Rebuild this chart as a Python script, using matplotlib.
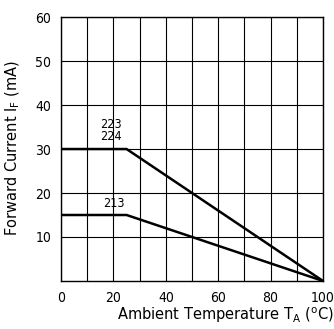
import numpy as np
import matplotlib
matplotlib.use('Agg')
import matplotlib.pyplot as plt
from matplotlib import font_manager

# derating curves (ambient temperature degC, forward current mA)
temp_hi = [0, 25, 100]
curr_hi = [30, 30, 0]
temp_lo = [0, 25, 100]
curr_lo = [15, 15, 0]
x_ticks = [0, 20, 40, 60, 80, 100]
y_ticks = [10, 20, 30, 40, 50, 60]

names = {f.name for f in font_manager.fontManager.ttflist}
NARROW = 'Liberation Sans Narrow' if 'Liberation Sans Narrow' in names else 'DejaVu Sans'

fig = plt.figure(figsize=(3.34, 3.29), dpi=100)
ax = fig.add_axes([0.183, 0.146, 0.784, 0.802])
ax.set_xlim(0, 100); ax.set_ylim(0, 60)
ax.set_xticks(x_ticks)
ax.set_xticks(np.arange(10, 100, 20), minor=True)
ax.set_yticks(y_ticks)
ax.grid(True, which='both', color='k', lw=0.8)
ax.set_axisbelow(True)
ax.tick_params(which='both', length=0, labelsize=10, pad=7)
for lab in ax.get_xticklabels() + ax.get_yticklabels():
    lab.set_family(NARROW)
    lab.set_stretch('condensed')
for s in ax.spines.values():
    s.set_linewidth(1.0)

ax.plot(temp_hi, curr_hi, color='k', lw=1.8, solid_capstyle='butt')
ax.plot(temp_lo, curr_lo, color='k', lw=1.8, solid_capstyle='butt')
ax.text(19, 31.3, '223\n224', fontsize=9, ha='center', va='bottom',
        family=NARROW, stretch='condensed', linespacing=0.95)
ax.text(20, 16.2, '213', fontsize=9, ha='center', va='bottom',
        family=NARROW, stretch='condensed')

fig.text(1.0, 0.012, 'Ambient Temperature T$\\mathregular{_A}$ ($\\mathregular{^o}$C)',
         ha='right', va='bottom', fontsize=10.5)
fig.text(0.012, 0.55, 'Forward Current I$\\mathregular{_F}$ (mA)', rotation=90,
         ha='left', va='center', fontsize=10.5)
fig.savefig('out.png', dpi=100)
